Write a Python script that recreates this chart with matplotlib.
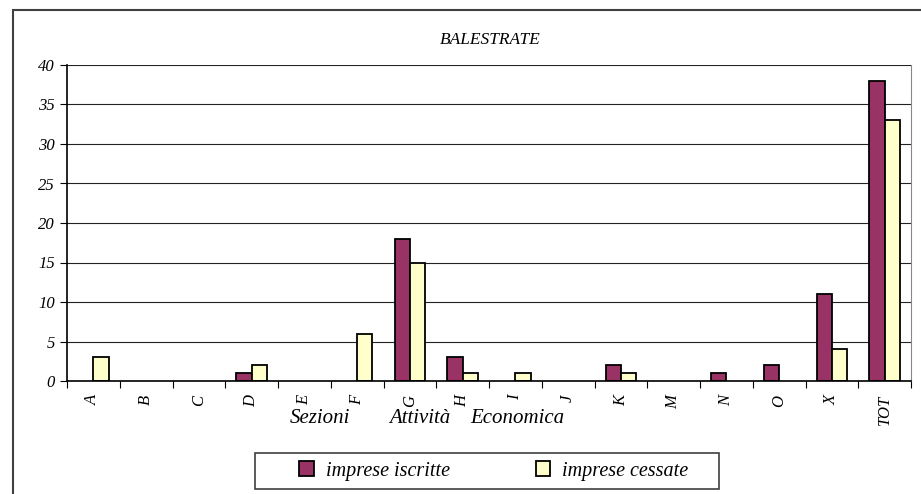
import matplotlib.pyplot as plt
from matplotlib.patches import Rectangle
import numpy as np

plt.rcParams['font.family'] = ['Liberation Serif', 'DejaVu Serif']

categories = ["A", "B", "C", "D", "E", "F", "G", "H", "I", "J", "K", "M", "N", "O", "X", "TOT"]
iscritte = [0, 0, 0, 1, 0, 0, 18, 3, 0, 0, 2, 0, 1, 2, 11, 38]
cessate = [3, 0, 0, 2, 0, 6, 15, 1, 1, 0, 1, 0, 0, 0, 4, 33]
xlabel_words = ["Sezioni", "Attività", "Economica"]

fig = plt.figure(figsize=(9.21, 4.94), dpi=100)
# outer chart border (right and bottom edges fall outside the image)
fig.patches.append(Rectangle((13/921, -0.1), 1.2, 1.1 - 10/494, transform=fig.transFigure,
                             fill=False, edgecolor="#404040", linewidth=1.5))

ax = fig.add_axes([67/921, 1 - 381/494, 844/921, 316/494])
x = np.arange(len(categories))
w = 0.29
b1 = ax.bar(x - w/2, iscritte, w, color="#993366", edgecolor="black",
            linewidth=[1.3 if v else 0 for v in iscritte], label="imprese iscritte")
b2 = ax.bar(x + w/2, cessate, w, color="#ffffcc", edgecolor="black",
            linewidth=[1.3 if v else 0 for v in cessate], label="imprese cessate")

ax.set_xlim(-0.5, len(categories) - 0.5)
ax.set_ylim(0, 40)
ax.set_yticks(range(0, 41, 5))
ax.set_axisbelow(True)
ax.yaxis.grid(True, color="#222222", linewidth=0.8)
ax.set_xticks(np.arange(-0.5, len(categories)), minor=False)
ax.set_xticklabels([])
ax.set_xticks(x, minor=True)
ax.set_xticklabels(categories, minor=True, rotation=90, style="italic", fontsize=12)
ax.tick_params(axis="x", which="minor", length=0, pad=10)
ax.tick_params(axis="x", which="major", length=5, direction="out")
ax.tick_params(axis="y", length=5, labelsize=12)
for lab in ax.get_yticklabels():
    lab.set_style("italic")
ax.spines["top"].set_visible(False)
ax.spines["right"].set_color("#888888")
ax.spines["left"].set_linewidth(1.2)
ax.spines["bottom"].set_linewidth(1.2)

fig.text(490/921, 1 - 40/494, "BALESTRATE", ha="center", va="center", fontsize=12.5, style="italic")
for word, cx in zip(xlabel_words, [320, 420, 517]):
    fig.text(cx/921, 1 - 418/494, word, ha="center", va="center", fontsize=15, style="italic")

# legend box
fig.patches.append(Rectangle((255/921, 1 - 489/494), 464/921, 36/494, transform=fig.transFigure,
                             fill=False, edgecolor="#404040", linewidth=1.2))
leg = fig.legend(handles=[b1, b2], loc="center", bbox_to_anchor=(494/921, 1 - 471/494),
                 ncol=2, frameon=False, prop={"style": "italic", "size": 14.5},
                 handlelength=0.7, handleheight=0.7, columnspacing=4.3, handletextpad=0.6)
for h in leg.legend_handles:
    h.set_linewidth(1.3)

fig.savefig("out.png", dpi=100)
